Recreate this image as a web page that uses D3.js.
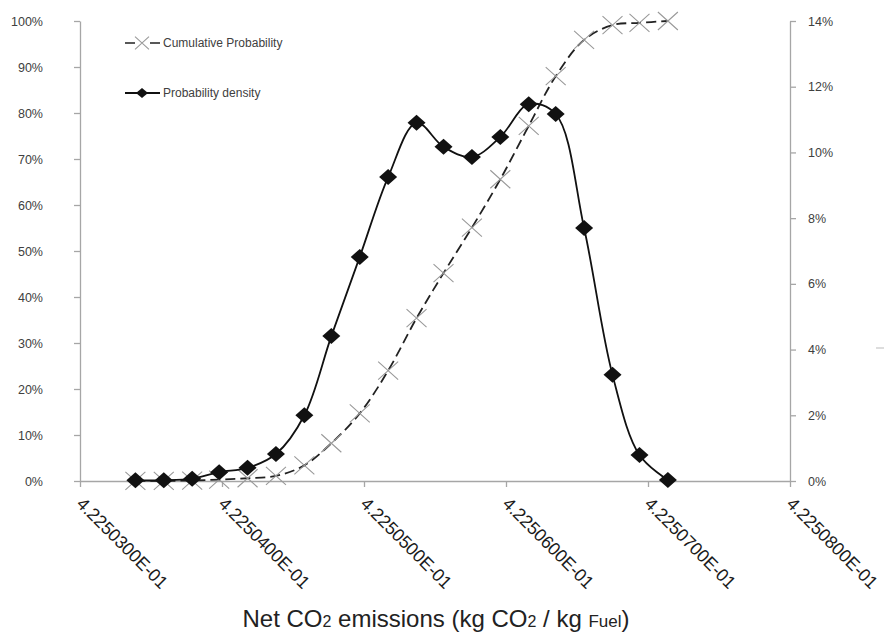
<!DOCTYPE html>
<html>
<head>
<meta charset="utf-8">
<script src="https://cdn.jsdelivr.net/npm/d3@7/dist/d3.min.js"></script>
<style>
  body { margin: 0; background: #fff; }
  svg { display: block; font-family: Arial, "Liberation Sans", sans-serif; }
</style>
</head>
<body>
<div class="board"></div>
<script>
var WIDTH = 885;
var HEIGHT = 633;
var LEFT = 80, RIGHT = 790, TOP = 21, BOTTOM = 481;

// emission values (kg CO2 / kg fuel)
var emissions = [0.42250339, 0.42250359, 0.42250379, 0.42250398, 0.42250418,
  0.42250438, 0.42250458, 0.42250477, 0.42250497, 0.42250517, 0.42250537,
  0.42250556, 0.42250576, 0.42250596, 0.42250616, 0.42250635, 0.42250655,
  0.42250675, 0.42250694, 0.42250714];
// probability density, %
var density = [0.02, 0.02, 0.07, 0.27, 0.40, 0.82, 2.00, 4.41, 6.82, 9.25,
  10.90, 10.17, 9.86, 10.47, 11.47, 11.17, 7.70, 3.23, 0.79, 0.03];
// cumulative probability, %
var cumulative = [0.02, 0.04, 0.1, 0.3, 0.6, 1.1, 3.4, 8.2, 14.7, 24.0,
  35.4, 45.2, 55.1, 65.6, 77.2, 88.0, 95.9, 99.1, 99.6, 100];

var xTicks = [0.422503, 0.422504, 0.422505, 0.422506, 0.422507, 0.422508];
var xTickLabels = ['4.2250300E-01', '4.2250400E-01', '4.2250500E-01',
  '4.2250600E-01', '4.2250700E-01', '4.2250800E-01'];
var leftTicks = [0, 10, 20, 30, 40, 50, 60, 70, 80, 90, 100];
var rightTicks = [0, 2, 4, 6, 8, 10, 12, 14];

var AXIS = '#a6a6a6';
var TEXT = '#404040';

var svg = d3.select('.board')
  .append('svg')
  .attr('width', WIDTH)
  .attr('height', HEIGHT);

var x = d3.scaleLinear().domain([0.422503, 0.422508]).range([LEFT, RIGHT]);
var yL = d3.scaleLinear().domain([0, 100]).range([BOTTOM, TOP]);
var yR = d3.scaleLinear().domain([0, 14]).range([BOTTOM, TOP]);

var styleAxis = function(g) {
  g.select('.domain').attr('stroke', AXIS).attr('stroke-width', 1.3);
  g.selectAll('.tick line').attr('stroke', AXIS).attr('stroke-width', 1.3);
  g.selectAll('.tick text').attr('fill', TEXT).attr('font-size', 12.5);
};

svg.append('g')
  .attr('transform', 'translate(' + LEFT + ',0)')
  .call(d3.axisLeft(yL).tickValues(leftTicks).tickSize(6).tickSizeOuter(0)
    .tickPadding(31).tickFormat(function(d) { return d + '%'; }))
  .call(styleAxis);

svg.append('g')
  .attr('transform', 'translate(' + RIGHT + ',0)')
  .call(d3.axisRight(yR).tickValues(rightTicks).tickSize(6).tickSizeOuter(0)
    .tickPadding(12).tickFormat(function(d) { return d + '%'; }))
  .call(styleAxis);

var xAxis = svg.append('g')
  .attr('transform', 'translate(0,' + BOTTOM + ')')
  .call(d3.axisBottom(x).tickValues(xTicks).tickSize(6).tickSizeOuter(0)
    .tickFormat(function(d, i) { return xTickLabels[i]; }))
  .call(styleAxis);

xAxis.selectAll('.tick text')
  .attr('font-size', 18)
  .attr('fill', '#1a1a1a')
  .attr('text-anchor', 'start')
  .attr('textLength', 120)
  .attr('lengthAdjust', 'spacingAndGlyphs')
  .attr('dy', 0)
  .attr('y', 0)
  .attr('transform', 'translate(-5,24) rotate(45)');

// x axis title
var title = svg.append('text')
  .attr('x', 436)
  .attr('y', 627)
  .attr('text-anchor', 'middle')
  .attr('font-size', 24)
  .attr('fill', '#222');
title.append('tspan').text('Net CO');
title.append('tspan').attr('font-size', 16).text('2');
title.append('tspan').text(' emissions (kg CO');
title.append('tspan').attr('font-size', 16).text('2');
title.append('tspan').text(' / kg ');
title.append('tspan').attr('font-size', 17).text('Fuel');
title.append('tspan').text(')');

// cumulative probability
var cumLine = d3.line()
  .x(function(d, i) { return x(emissions[i]); })
  .y(function(d) { return yL(d); })
  .curve(d3.curveCatmullRom.alpha(0.5));

svg.append('path')
  .datum(cumulative)
  .attr('d', cumLine)
  .attr('fill', 'none')
  .attr('stroke', '#222')
  .attr('stroke-width', 1.8)
  .attr('stroke-dasharray', '10,5');

var crossPath = function(s) {
  return 'M' + (-s) + ',' + (-s * 0.9) + 'L' + s + ',' + (s * 0.9) +
    'M' + (-s) + ',' + (s * 0.9) + 'L' + s + ',' + (-s * 0.9);
};

svg.selectAll('.cross')
  .data(cumulative)
  .enter()
  .append('path')
  .attr('class', 'cross')
  .attr('transform', function(d, i) {
    return 'translate(' + x(emissions[i]) + ',' + yL(d) + ')';
  })
  .attr('d', crossPath(10))
  .attr('fill', 'none')
  .attr('stroke', '#999')
  .attr('stroke-width', 1.1);

// probability density
var denLine = d3.line()
  .x(function(d, i) { return x(emissions[i]); })
  .y(function(d) { return yR(d); })
  .curve(d3.curveCatmullRom.alpha(0.5));

svg.append('path')
  .datum(density)
  .attr('d', denLine)
  .attr('fill', 'none')
  .attr('stroke', '#111')
  .attr('stroke-width', 1.8);

var diamondPath = function(w, h) {
  return 'M0,' + (-h) + 'L' + w + ',0L0,' + h + 'L' + (-w) + ',0Z';
};

svg.selectAll('.diamond')
  .data(density)
  .enter()
  .append('path')
  .attr('class', 'diamond')
  .attr('transform', function(d, i) {
    return 'translate(' + x(emissions[i]) + ',' + yR(d) + ')';
  })
  .attr('d', diamondPath(9, 8))
  .attr('fill', '#111');

// legend
var legend = svg.append('g');
legend.append('path')
  .attr('d', 'M125,43H160')
  .attr('stroke', '#222')
  .attr('stroke-width', 1.5)
  .attr('stroke-dasharray', '10,15');
legend.append('path')
  .attr('transform', 'translate(142,43)')
  .attr('d', crossPath(7))
  .attr('fill', 'none')
  .attr('stroke', '#999')
  .attr('stroke-width', 1.1);
legend.append('text')
  .attr('x', 163).attr('y', 47)
  .attr('font-size', 12).attr('fill', TEXT)
  .text('Cumulative Probability');

legend.append('path')
  .attr('d', 'M125,93H160')
  .attr('stroke', '#111')
  .attr('stroke-width', 1.8);
legend.append('path')
  .attr('transform', 'translate(142,93)')
  .attr('d', diamondPath(6, 5))
  .attr('fill', '#111');
legend.append('text')
  .attr('x', 163).attr('y', 97)
  .attr('font-size', 12).attr('fill', TEXT)
  .text('Probability density');

// stray mark at the right edge
svg.append('path')
  .attr('d', 'M876,348H884')
  .attr('stroke', '#bbb')
  .attr('stroke-width', 1);
</script>
</body>
</html>
